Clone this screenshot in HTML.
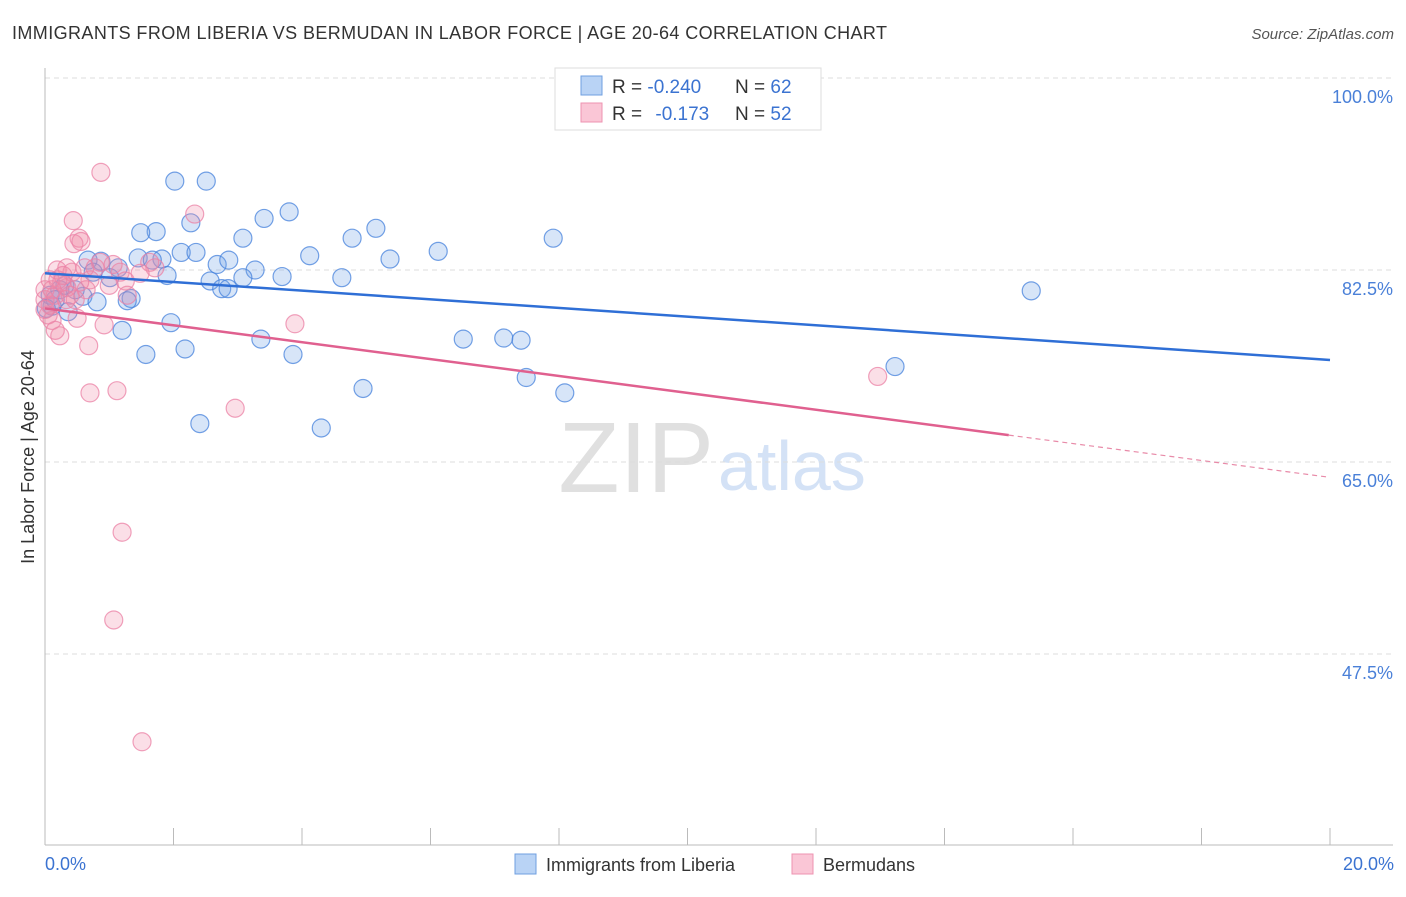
<!DOCTYPE html>
<html><head><meta charset="utf-8"><style>
body{margin:0;background:#fff;font-family:"Liberation Sans",sans-serif;}
svg text{font-family:"Liberation Sans",sans-serif;}
</style></head><body>
<svg id="c" width="1406" height="892" xmlns="http://www.w3.org/2000/svg">
<text x="12" y="39" font-size="18" fill="#333" textLength="875">IMMIGRANTS FROM LIBERIA VS BERMUDAN IN LABOR FORCE | AGE 20-64 CORRELATION CHART</text>
<text x="1394" y="39" font-size="15" fill="#555" font-style="italic" text-anchor="end">Source: ZipAtlas.com</text>
<text x="714" y="492" font-size="100" fill="#e0e0e0" text-anchor="end" font-family="Liberation Serif">ZIP</text>
<text x="718" y="490" font-size="70" fill="#d4e2f6">atlas</text>
<g id="grid"></g><g id="axes"></g><g id="pts"></g><g id="lines"></g>
<text transform="translate(34,457) rotate(-90)" font-size="18" fill="#333" text-anchor="middle">In Labor Force | Age 20-64</text>
<text x="45" y="870" font-size="18" fill="#3b73d1">0.0%</text>
<text x="1394" y="870" font-size="18" fill="#3b73d1" text-anchor="end">20.0%</text>
<g>
<rect x="555" y="68" width="266" height="62" fill="#fff" stroke="#ddd"/>
<rect x="581" y="76" width="21" height="19" fill="#b9d3f5" stroke="#6f9fe0"/>
<rect x="581" y="103" width="21" height="19" fill="#fac6d6" stroke="#ee93b0"/>
<text x="612" y="93" font-size="19" fill="#333">R = <tspan fill="#3b73d1">-0.240</tspan></text>
<text x="735" y="93" font-size="19" fill="#333">N = <tspan fill="#3b73d1">62</tspan></text>
<text x="612" y="120" font-size="19" fill="#333">R = <tspan fill="#3b73d1" dx="8">-0.173</tspan></text>
<text x="735" y="120" font-size="19" fill="#333">N = <tspan fill="#3b73d1">52</tspan></text>
</g>
<g>
<rect x="515" y="854" width="21" height="20" fill="#b9d3f5" stroke="#6f9fe0"/>
<text x="546" y="871" font-size="18" fill="#333">Immigrants from Liberia</text>
<rect x="792" y="854" width="21" height="20" fill="#fac6d6" stroke="#ee93b0"/>
<text x="823" y="871" font-size="18" fill="#333">Bermudans</text>
</g>
</svg>
<script>
const yTicks=[100,82.5,65,47.5];
const yTickLabels=["100.0%","82.5%","65.0%","47.5%"];
const xTicks=[2,4,6,8,10,12,14,16,18,20];
const blueX=[2.02,2.51,3.80,3.41,2.27,5.15,1.73,1.49,3.08,4.78,7.91,2.12,2.35,6.12,4.12,5.37,1.45,1.82,1.67,0.67,0.87,1.14,2.68,2.86,3.27,1.90,3.69,4.62,3.08,2.57,1.01,2.75,2.85,15.35,0.59,1.34,0.81,1.28,0.36,0.11,1.20,1.96,3.36,6.51,7.14,7.41,1.57,2.18,3.86,13.23,7.49,4.95,8.09,2.41,4.30,0.23,0.08,0.47,0.31,0.16,0.02,0.75];
const blueY=[90.6,90.6,87.8,87.2,86.8,86.3,86.0,85.9,85.4,85.4,85.4,84.1,84.1,84.2,83.8,83.5,83.6,83.5,83.4,83.4,83.3,82.7,83.0,83.4,82.5,82.0,81.9,81.8,81.8,81.5,81.8,80.8,80.8,80.6,80.1,79.9,79.6,79.7,78.7,79.2,77.0,77.7,76.2,76.2,76.3,76.1,74.8,75.3,74.8,73.7,72.7,71.7,71.3,68.5,68.1,80.7,80.2,80.7,81.1,79.8,79.0,82.3];
const pinkX=[0.87,2.33,0.44,0.53,0.45,0.56,0.34,0.19,0.78,1.17,1.63,1.71,1.25,1.00,0.70,0.34,0.16,0.08,0.00,0.05,0.11,0.50,0.92,0.23,3.89,0.68,0.70,1.12,2.96,12.96,1.20,1.07,1.51,0.42,0.26,0.64,1.28,0.54,0.00,0.20,0.33,0.11,0.86,1.06,0.0,0.08,0.39,0.62,0.28,0.47,0.16,1.48];
const pinkY=[91.4,87.6,87.0,85.4,84.9,85.1,82.7,82.5,82.7,82.3,83.2,82.7,81.5,81.1,81.6,80.9,80.2,79.3,79.8,78.4,77.9,78.1,77.5,76.5,77.6,75.6,71.3,71.5,69.9,72.8,58.6,50.6,39.5,82.3,81.4,80.7,80.2,81.4,80.7,81.6,79.8,80.7,83.2,83.0,78.9,81.6,80.2,82.7,82.0,79.8,77.0,82.2];
const blueTrend=[82.2,74.3];
const pinkTrend=[79.0,63.6];
const pinkSolidEnd=15.0;
const X=v=>45+v/20*1285, Y=v=>78+(100-v)/17.5*192;
const NS="http://www.w3.org/2000/svg";
function mk(p,t,a){const e=document.createElementNS(NS,t);for(const k in a)e.setAttribute(k,a[k]);p.appendChild(e);return e;}
const g=document.getElementById('grid'),ax=document.getElementById('axes'),pts=document.getElementById('pts'),ln=document.getElementById('lines');
yTicks.forEach((t,i)=>{
 const l=mk(g,'line',{x1:45,x2:1393,y1:Y(t),y2:Y(t),stroke:'#ddd','stroke-dasharray':'5,4'});
 
 
 const tx=mk(g,'text',{x:1393,y:Y(t)+25,'font-size':18,fill:'#4a80d8','text-anchor':'end'});
 tx.textContent=yTickLabels[i];
 
 
});
const a1=mk(ax,'line',{x1:45,x2:45,y1:68,y2:845,stroke:'#bbb'});


const a2=mk(ax,'line',{x1:45,x2:1393,y1:845,y2:845,stroke:'#bbb'});


xTicks.forEach(t=>{const l=mk(ax,'line',{x1:X(t),x2:X(t),y1:828,y2:845,stroke:'#bbb'});
 
 });
blueX.forEach((x,i)=>{const c=mk(pts,'circle',{cx:X(x),cy:Y(blueY[i]),r:9,fill:'rgba(110,160,230,0.28)',stroke:'rgba(70,130,220,0.75)','stroke-width':1.2});
 
 });
pinkX.forEach((x,i)=>{const c=mk(pts,'circle',{cx:X(x),cy:Y(pinkY[i]),r:9,fill:'rgba(240,140,170,0.28)',stroke:'rgba(235,130,165,0.75)','stroke-width':1.2});
 
 });
const bl=mk(ln,'line',{x1:X(0),y1:Y(blueTrend[0]),x2:X(20),y2:Y(blueTrend[1]),stroke:'#2f6fd6','stroke-width':2.5});


const pm=pinkTrend[0]+(pinkTrend[1]-pinkTrend[0])*pinkSolidEnd/20;
const pl=mk(ln,'line',{x1:X(0),y1:Y(pinkTrend[0]),x2:X(pinkSolidEnd),y2:Y(pm),stroke:'#e0608f','stroke-width':2.5});


const pd=mk(ln,'line',{x1:X(pinkSolidEnd),y1:Y(pm),x2:X(20),y2:Y(pinkTrend[1]),stroke:'#e88aa8','stroke-width':1.2,'stroke-dasharray':'5,4'});


</script>
</body></html>
